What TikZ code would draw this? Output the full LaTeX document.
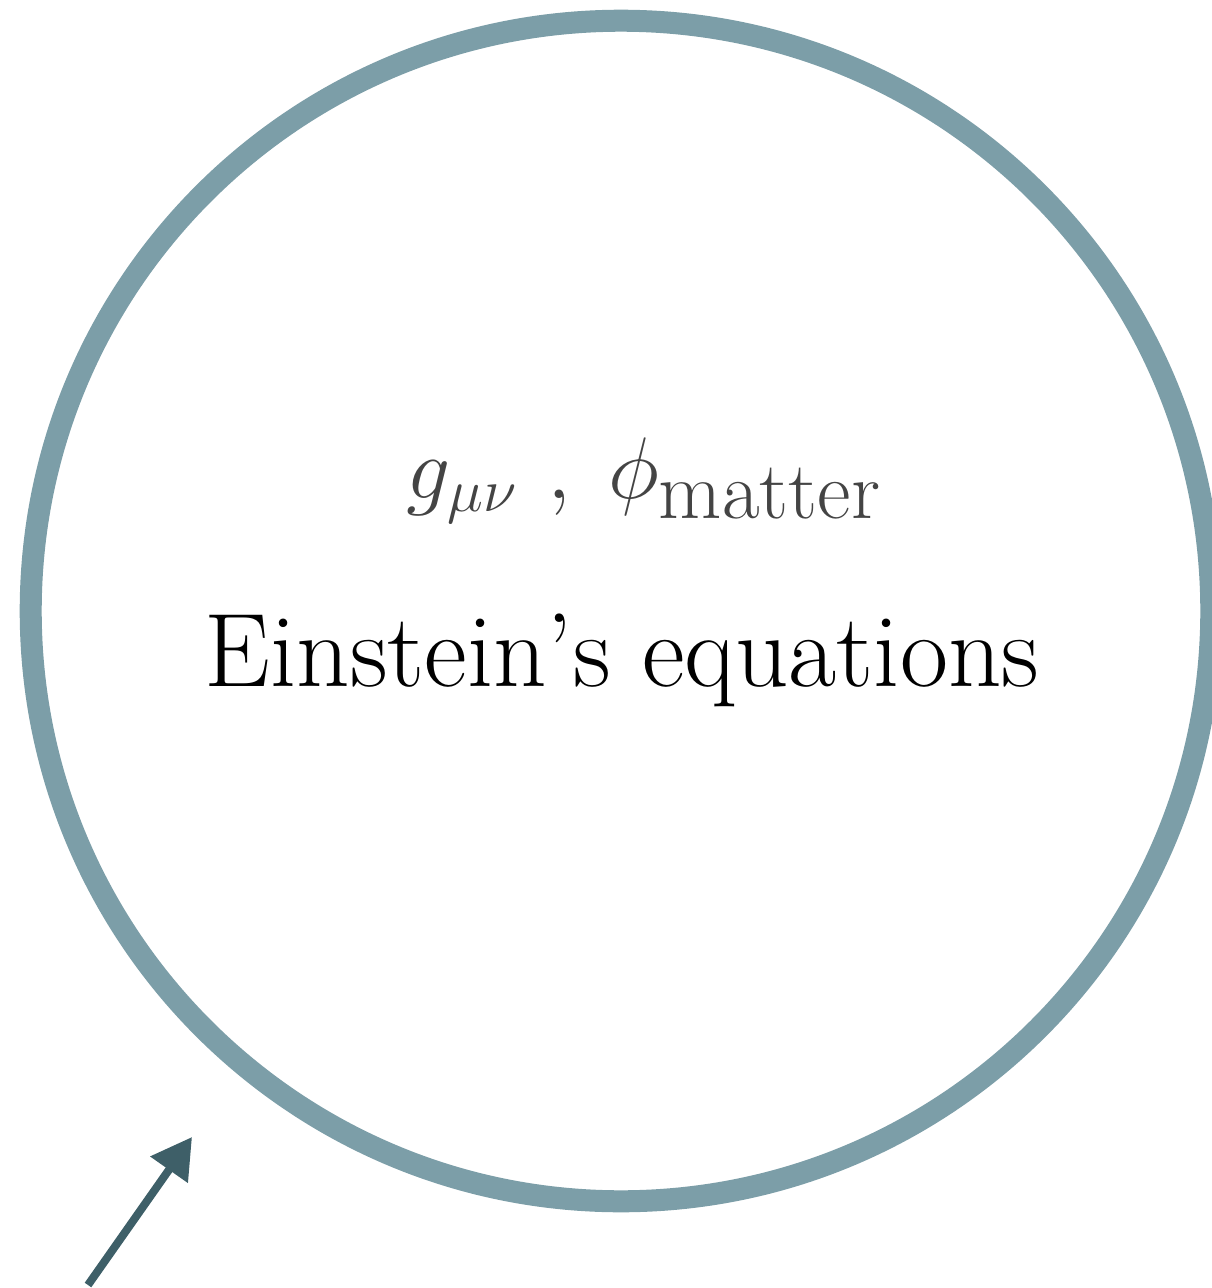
\documentclass[tikz,border=0pt]{standalone}
\usetikzlibrary{arrows.meta}
\definecolor{ringc}{HTML}{7C9EA8}
\definecolor{arrc}{HTML}{3E5F68}
\definecolor{txtg}{HTML}{444444}
\begin{document}
\begin{tikzpicture}[x=0.01cm,y=-0.01cm,
  ring/.style={draw=ringc,line width=22*0.2845pt},
  arr/.style={draw=arrc,line width=8*0.2845pt,-{Triangle[length=40*0.2845pt,width=44*0.2845pt]}}]
\useasboundingbox (0,0) rectangle (1211,1288);
\node[ring,circle,minimum size=1180*0.2845pt,inner sep=0pt] (c) at (621,611) {};
\node[anchor=base west,inner sep=0pt,text=txtg,font=\fontsize{26.5}{31}\selectfont] (vars) at (406,498)
  {$g_{\hbox{\fontsize{16.5}{20}\selectfont$\mu\nu$}}\hspace{8.3pt},\hspace{6.3pt}\phi_{\hbox{\fontsize{23.3}{28}\selectfont matter}}$};
\node[anchor=base,font=\fontsize{29.75}{36}\selectfont] (eq) at (622,686) {Einstein's equations};
\coordinate (a0) at (88,1285);
\coordinate (a1) at (192,1137);
\draw[arr] (a0) -- (a1);
\end{tikzpicture}
\end{document}
